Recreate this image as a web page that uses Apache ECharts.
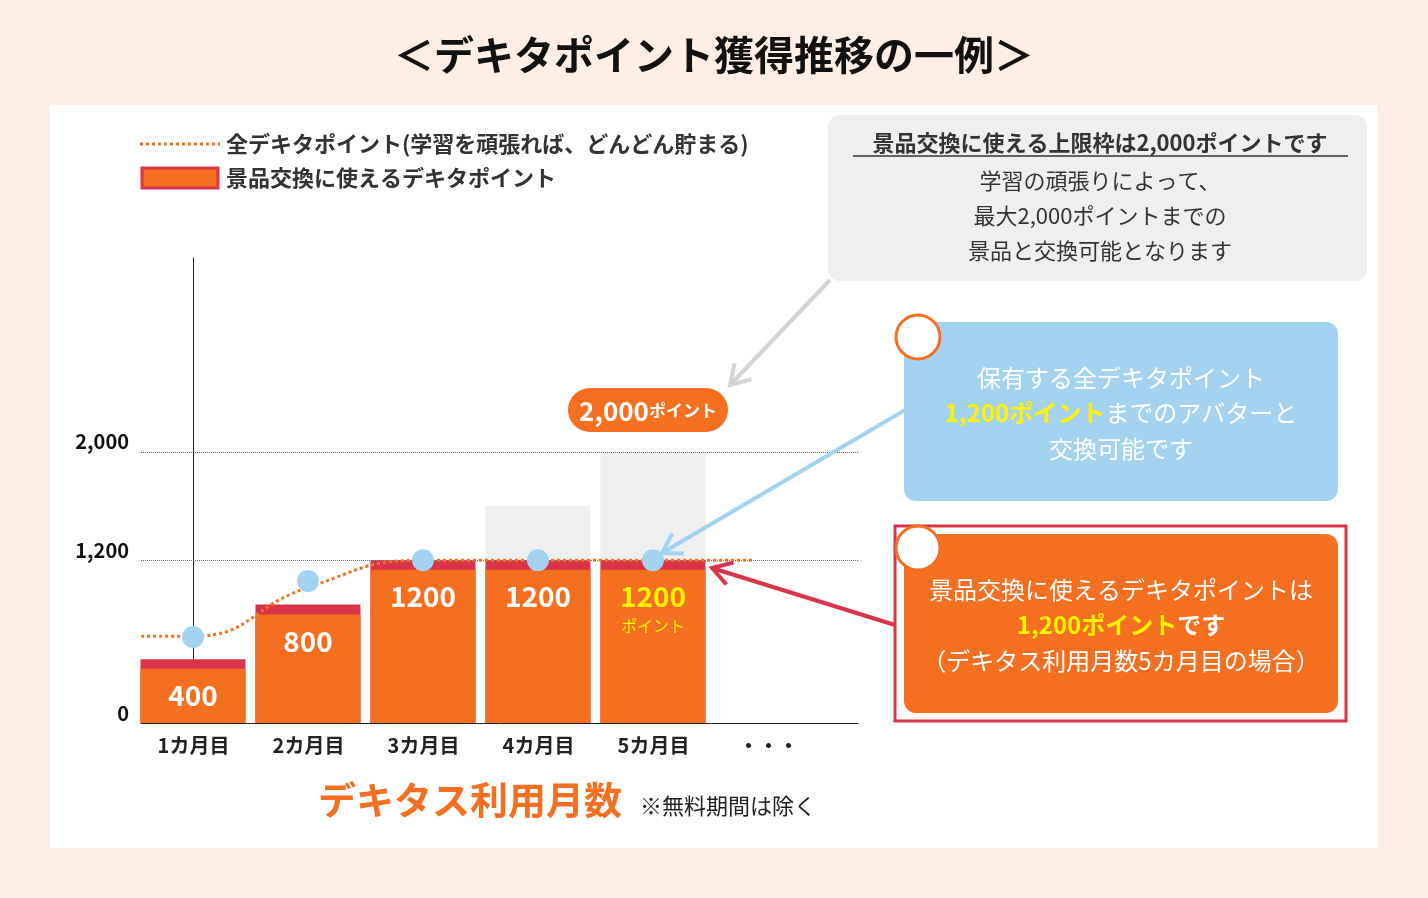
<!DOCTYPE html>
<html>
<head>
<meta charset="utf-8">
<script src="https://cdn.jsdelivr.net/npm/echarts@6/dist/echarts.min.js"></script>
<style>
html,body{margin:0;padding:0;background:#fdefe6;}
#main{width:1428px;height:898px;}
</style>
</head>
<body>
<div id="main"></div>
<script>
var months = ['1カ月目', '2カ月目', '3カ月目', '4カ月目', '5カ月目', '・・・'];
var totalPoints = [400, 800, 1200, 1600, 2000];
var capValues = [470, 875, 1200, 1200, 1200];
var usableValues = [400, 800, 1130, 1130, 1130];
var barLabels = [400, 800, 1200, 1200, 1200];
var dotValues = [635, 1048, 1200, 1200, 1200];
var trendX = [-0.45, 0, 1, 2, 4.87];
var trendY = [640, 640, 1000, 1200, 1200];
var yTicks = [0, 1200, 2000];

var FONT = '"Noto Sans CJK JP", "Noto Sans", sans-serif';
var ORANGE = '#f56f21', RED = '#d9344a', BLUE = '#a3d3f0', YELLOW = '#fff200';

function pairs(xs, ys) {
	return ys.map(function(v, i) { return [xs ? xs[i] : i, v]; });
}

var myChart = echarts.init(document.getElementById('main'));

function centerText(x, y, text, size, color, rich, weight) {
	return {
		type: 'text', x: x, y: y, z: 20,
		style: {
			text: text, fill: color, font: (weight || 'bold') + ' ' + size + 'px ' + FONT,
			align: 'center', verticalAlign: 'middle', rich: rich
		}
	};
}

function circleNum(x, y, n) {
	return [{
		type: 'circle', shape: {cx: x, cy: y, r: 22}, z: 21,
		style: {fill: '#fff', stroke: ORANGE, lineWidth: 3}
	}, centerText(x, y + 1, n, 30, ORANGE)];
}

function arrow(x1, y1, x2, y2, color) {
	var a = Math.atan2(y2 - y1, x2 - x1), L = 22, s = 0.55;
	return [{
		type: 'line', z: 15, shape: {x1: x1, y1: y1, x2: x2, y2: y2},
		style: {stroke: color, lineWidth: 4}
	}, {
		type: 'polyline', z: 15,
		shape: {points: [
			[x2 - L * Math.cos(a - s), y2 - L * Math.sin(a - s)],
			[x2, y2],
			[x2 - L * Math.cos(a + s), y2 - L * Math.sin(a + s)]
		]},
		style: {stroke: color, lineWidth: 4, fill: null}
	}];
}

var yellowRich = {
	y: {fill: YELLOW, font: 'bold 24px ' + FONT},
	w: {fill: '#fff', font: 'bold 24px ' + FONT}
};

var graphics = [
	{type: 'rect', shape: {x: 50, y: 105, width: 1328, height: 743}, z: -10, style: {fill: '#fff'}},
	centerText(714, 55, '＜デキタポイント獲得推移の一例＞', 40, '#111'),
	// legend
	{type: 'line', shape: {x1: 140, y1: 144, x2: 220, y2: 144}, style: {stroke: ORANGE, lineWidth: 3, lineDash: [3, 3]}},
	{type: 'text', x: 226, y: 144, style: {text: '全デキタポイント(学習を頑張れば、どんどん貯まる)', fill: '#333', font: 'bold 22px ' + FONT, verticalAlign: 'middle'}},
	{type: 'rect', shape: {x: 142, y: 168, width: 76, height: 20}, style: {fill: ORANGE, stroke: RED, lineWidth: 3}},
	{type: 'text', x: 226, y: 178, style: {text: '景品交換に使えるデキタポイント', fill: '#333', font: 'bold 22px ' + FONT, verticalAlign: 'middle'}},
	// gray note
	{type: 'rect', shape: {x: 828, y: 115, width: 539, height: 166, r: 12}, style: {fill: '#efefef'}},
	centerText(1100, 143, '景品交換に使える上限枠は2,000ポイントです', 22, '#333'),
	{type: 'line', shape: {x1: 853, y1: 156, x2: 1348, y2: 156}, style: {stroke: '#333', lineWidth: 1.5}},
	centerText(1100, 181, '学習の頑張りによって、', 22, '#333', null, 'normal'),
	centerText(1100, 216, '最大2,000ポイントまでの', 22, '#333', null, 'normal'),
	centerText(1100, 251, '景品と交換可能となります', 22, '#333', null, 'normal'),
	// 2000 pill
	{type: 'rect', shape: {x: 568, y: 388, width: 160, height: 44, r: 22}, z: 19, style: {fill: ORANGE}},
	centerText(648, 411, '{a|2,000}{b|ポイント}', 26, '#fff', {
		a: {fill: '#fff', font: 'bold 26px ' + FONT},
		b: {fill: '#fff', font: 'bold 17px ' + FONT}
	}),
	// blue box
	{type: 'rect', shape: {x: 904, y: 322, width: 434, height: 179, r: 12}, style: {fill: BLUE}},
	centerText(1121, 378, '保有する全デキタポイント', 24, '#fff', null, 'normal'),
	centerText(1121, 413, '{y|1,200ポイント}{w|までのアバターと}', 24, '#fff', {
		y: {fill: YELLOW, font: 'bold 24px ' + FONT},
		w: {fill: '#fff', font: 'normal 24px ' + FONT}
	}),
	centerText(1121, 449, '交換可能です', 24, '#fff', null, 'normal'),
	// red box
	{type: 'rect', shape: {x: 895, y: 526, width: 451, height: 195}, style: {fill: '#fff', stroke: RED, lineWidth: 3}},
	{type: 'rect', shape: {x: 904, y: 534, width: 434, height: 179, r: 12}, style: {fill: ORANGE}},
	centerText(1121, 590, '景品交換に使えるデキタポイントは', 24, '#fff', null, 'normal'),
	centerText(1121, 625, '{y|1,200ポイント}{w|です}', 24, '#fff', yellowRich),
	centerText(1121, 661, '（デキタス利用月数5カ月目の場合）', 24, '#fff', null, 'normal'),
	// axis title
	centerText(470, 800, 'デキタス利用月数', 38, ORANGE),
	{type: 'text', x: 640, y: 806, style: {text: '※無料期間は除く', fill: '#222', font: 'normal 22px ' + FONT, verticalAlign: 'middle'}}
];
graphics = graphics.concat(circleNum(918, 337, '1'), circleNum(918, 548, '2'),
	arrow(830, 280, 730, 385, '#d3d3d3'),
	arrow(905, 410, 662, 553, BLUE),
	arrow(895, 625, 712, 568, RED));

var bw = 105;
var option = {
	animation: false,
	grid: [
		{left: 136, width: 690, top: 258, bottom: 175},
		{left: 141, width: 717, top: 258, bottom: 175}
	],
	xAxis: [{
		type: 'category', gridIndex: 0, data: months,
		axisLine: {show: false}, axisTick: {show: false},
		axisLabel: {color: '#222', fontSize: 20, fontWeight: 'bold', fontFamily: FONT, margin: 12}
	}, {
		type: 'value', gridIndex: 1, min: -0.452, max: 5.783,
		axisLine: {show: true, onZero: false, lineStyle: {color: '#222', width: 1}},
		axisTick: {show: false}, axisLabel: {show: false}, splitLine: {show: false}
	}],
	yAxis: [{
		type: 'value', gridIndex: 0, min: 0, max: 3430, show: false
	}, {
		type: 'value', gridIndex: 1, min: 0, max: 3430,
		axisLine: {show: true, lineStyle: {color: '#222', width: 1}},
		axisTick: {show: false}, splitLine: {show: false},
		axisLabel: {customValues: yTicks, color: '#111', fontSize: 20, fontWeight: 'bold', fontFamily: FONT, margin: 12, verticalAlign: 'bottom'}
	}],
	series: [{
		type: 'bar', xAxisIndex: 1, yAxisIndex: 1, barWidth: bw, barGap: '-100%',
		data: pairs(null, totalPoints), itemStyle: {color: '#efefef'},
		markLine: {
			silent: true, symbol: 'none', label: {show: false},
			lineStyle: {color: '#666', type: 'dotted', width: 1},
			data: [{yAxis: 1200}, {yAxis: 2000}]
		}
	}, {
		type: 'bar', xAxisIndex: 1, yAxisIndex: 1, barWidth: bw, barGap: '-100%',
		data: pairs(null, capValues), itemStyle: {color: RED}
	}, {
		type: 'bar', xAxisIndex: 1, yAxisIndex: 1, barWidth: bw, barGap: '-100%',
		data: pairs(null, usableValues), itemStyle: {color: ORANGE},
		label: {
			show: true, position: 'insideTop', distance: 10,
			formatter: function(p) {
				return p.dataIndex === 4 ? '{y|' + barLabels[4] + '}\n{s|ポイント}' : '{w|' + barLabels[p.dataIndex] + '}';
			},
			rich: {
				w: {color: '#fff', fontSize: 28, fontWeight: 'bold', fontFamily: FONT, lineHeight: 34},
				y: {color: YELLOW, fontSize: 28, fontWeight: 'bold', fontFamily: FONT, lineHeight: 34},
				s: {color: YELLOW, fontSize: 16, fontFamily: FONT, lineHeight: 24}
			}
		}
	}, {
		type: 'line', xAxisIndex: 1, yAxisIndex: 1, smooth: true, showSymbol: false,
		data: pairs(trendX, trendY), z: 5,
		lineStyle: {color: ORANGE, width: 3, type: [3, 3]}
	}, {
		type: 'scatter', xAxisIndex: 1, yAxisIndex: 1, symbolSize: 22, z: 6,
		data: pairs(null, dotValues), itemStyle: {color: BLUE, opacity: 1}
	}],
	graphic: graphics
};
myChart.setOption(option);
</script>
</body>
</html>
